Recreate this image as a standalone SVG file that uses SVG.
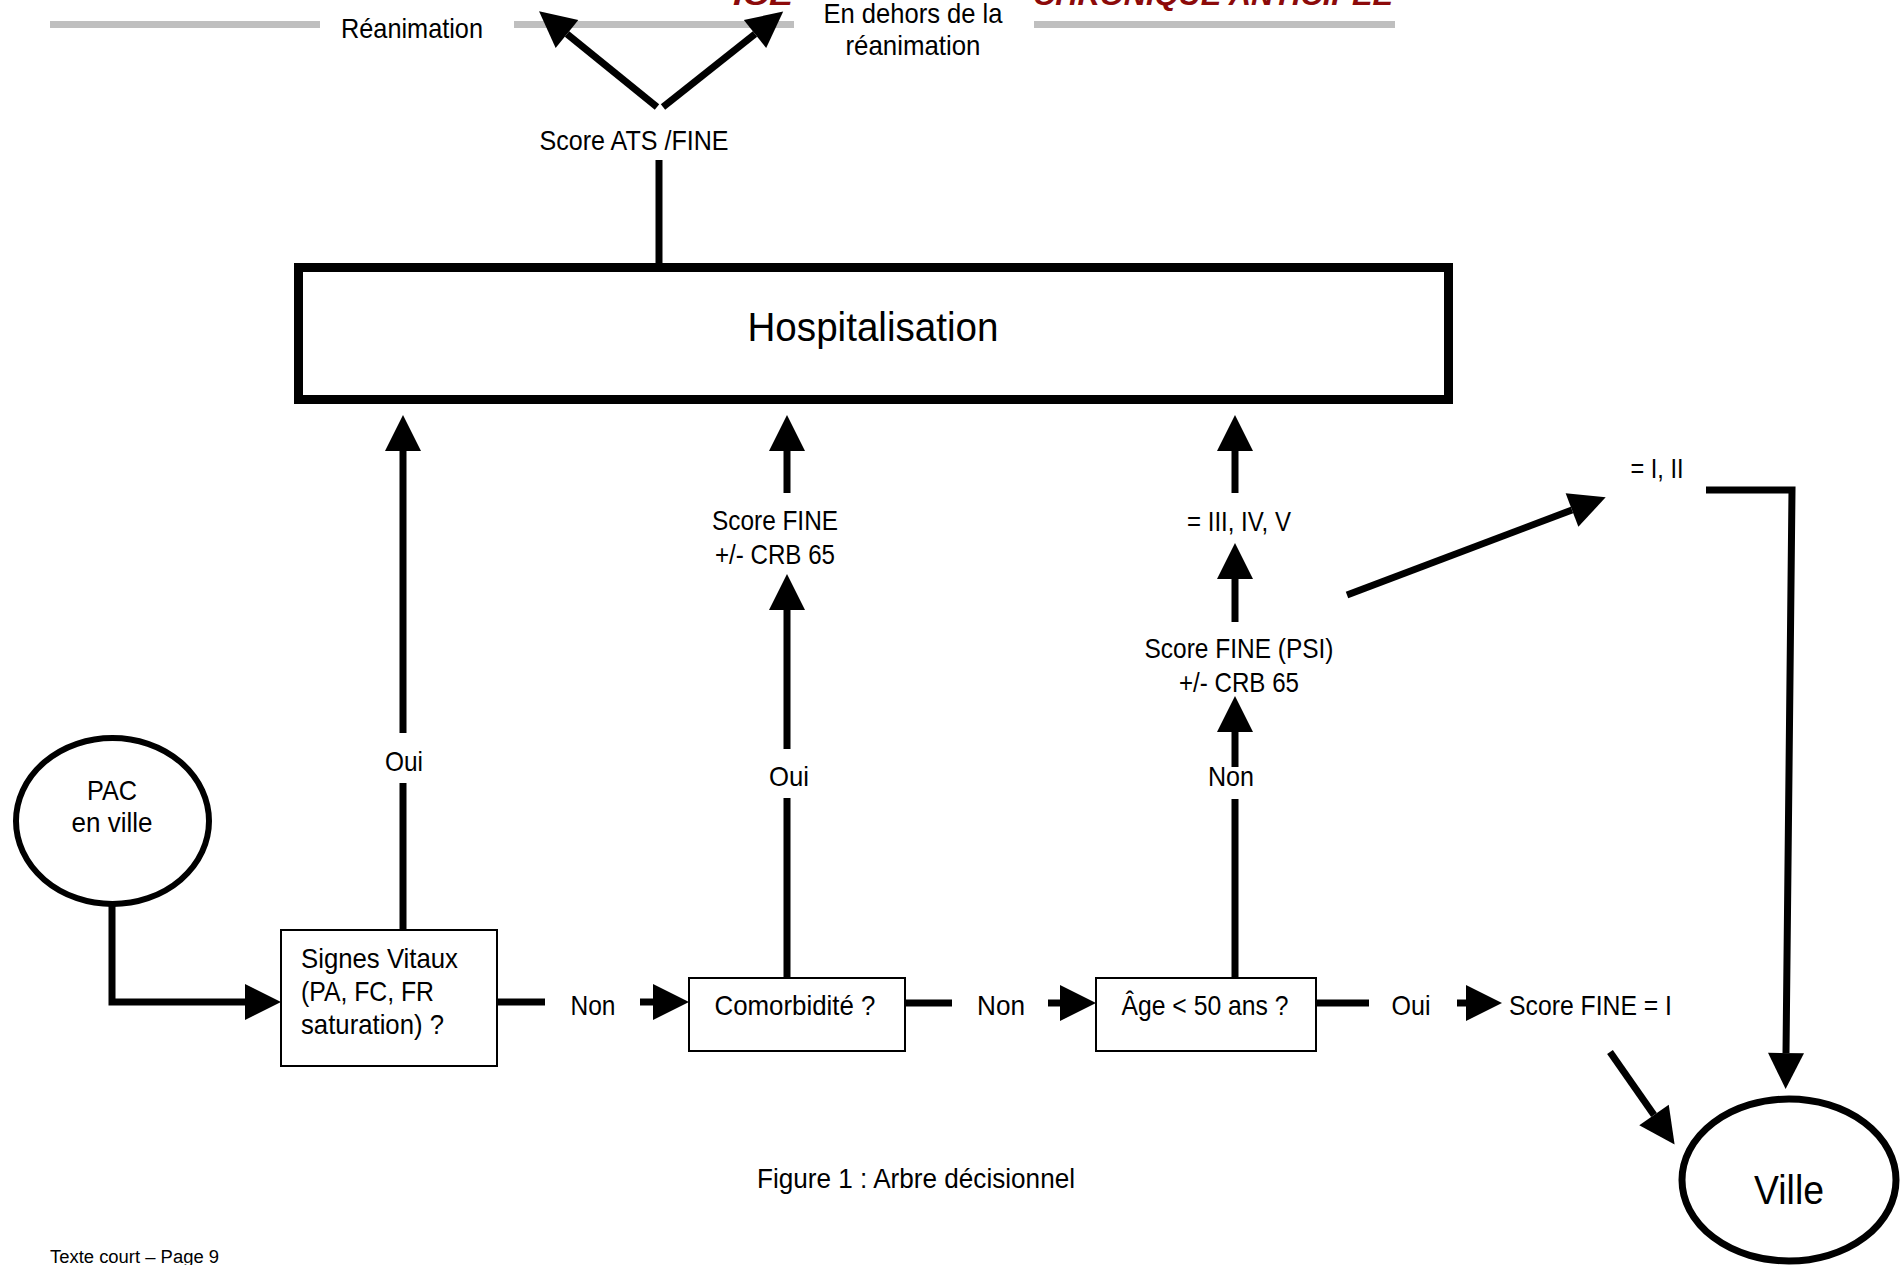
<svg xmlns="http://www.w3.org/2000/svg" width="1904" height="1265" viewBox="0 0 1904 1265">
<style>
.t{font-family:"Liberation Sans Narrow","Liberation Sans",Arial,sans-serif;font-size:28px;fill:#000}
.m{text-anchor:middle}
.hdr{font-family:"Liberation Sans",Arial,sans-serif;font-size:30px;font-weight:bold;font-style:italic;fill:#8C0A0A}
.ln{fill:none;stroke:#000;stroke-width:7;stroke-linecap:butt;stroke-linejoin:miter}
.box{fill:#fff;stroke:#000;stroke-width:2}
.gray{stroke:#BFBFBF;stroke-width:7}
</style>
<defs>
<marker id="ah" markerUnits="userSpaceOnUse" markerWidth="38" markerHeight="37" refX="0" refY="18" orient="auto" overflow="visible">
<path d="M0,0 L36,18 L0,36 z" fill="#000"/>
</marker>
</defs>
<rect width="1904" height="1265" fill="#fff"/>

<g id="header">
<text class="hdr" x="733" y="5" textLength="60" lengthAdjust="spacingAndGlyphs">ICE</text>
<text class="hdr" x="1033" y="5" textLength="360" lengthAdjust="spacingAndGlyphs">CHRONIQUE ANTICIPEE</text>
<line class="gray" x1="50" y1="24.5" x2="320" y2="24.5"/>
<line class="gray" x1="514" y1="24.5" x2="794" y2="24.5"/>
<line class="gray" x1="1034" y1="24.5" x2="1395" y2="24.5"/>
</g>

<g id="connectors">
<line class="ln" x1="659" y1="160" x2="659" y2="263"/>
<line class="ln" x1="657" y1="107" x2="567" y2="34" stroke-width="8" marker-end="url(#ah)"/>
<line class="ln" x1="663" y1="107" x2="755" y2="34" stroke-width="8" marker-end="url(#ah)"/>
<line class="ln" x1="403" y1="733" x2="403" y2="451" marker-end="url(#ah)"/>
<line class="ln" x1="403" y1="783" x2="403" y2="930"/>
<line class="ln" x1="787" y1="493" x2="787" y2="451" marker-end="url(#ah)"/>
<line class="ln" x1="787" y1="749" x2="787" y2="610" marker-end="url(#ah)"/>
<line class="ln" x1="787" y1="798" x2="787" y2="978"/>
<line class="ln" x1="1235" y1="493" x2="1235" y2="451" marker-end="url(#ah)"/>
<line class="ln" x1="1235" y1="622" x2="1235" y2="579" marker-end="url(#ah)"/>
<line class="ln" x1="1235" y1="767" x2="1235" y2="732" marker-end="url(#ah)"/>
<line class="ln" x1="1235" y1="799" x2="1235" y2="978"/>
<path class="ln" d="M112,905 L112,1002 L245,1002" marker-end="url(#ah)"/>
<line class="ln" x1="497" y1="1002" x2="545" y2="1002"/>
<line class="ln" x1="640" y1="1002" x2="653" y2="1002" marker-end="url(#ah)"/>
<line class="ln" x1="905" y1="1003" x2="952" y2="1003"/>
<line class="ln" x1="1048" y1="1003" x2="1060" y2="1003" marker-end="url(#ah)"/>
<line class="ln" x1="1316" y1="1003" x2="1369" y2="1003"/>
<line class="ln" x1="1457" y1="1003" x2="1466" y2="1003" marker-end="url(#ah)"/>
<line class="ln" x1="1610" y1="1052" x2="1654" y2="1115" stroke-width="8" marker-end="url(#ah)"/>
<line class="ln" x1="1347" y1="595" x2="1572" y2="510" stroke-width="8" marker-end="url(#ah)"/>
<path class="ln" d="M1706,490 L1792,490 L1786,1053" marker-end="url(#ah)"/>
</g>

<g id="lbl-reanimation"><text class="t m" x="412" y="38" textLength="142" lengthAdjust="spacingAndGlyphs">Réanimation</text></g>
<g id="lbl-hors-reanimation">
<text class="t m" x="913" y="23" textLength="179" lengthAdjust="spacingAndGlyphs">En dehors de la</text>
<text class="t m" x="913" y="55" textLength="135" lengthAdjust="spacingAndGlyphs">réanimation</text>
</g>
<g id="lbl-score-ats"><text class="t m" x="634" y="150" textLength="189" lengthAdjust="spacingAndGlyphs">Score ATS /FINE</text></g>

<g id="hospitalisation">
<rect x="298.5" y="267.5" width="1150" height="132" fill="#fff" stroke="#000" stroke-width="9"/>
<text class="t m" x="873" y="341" style="font-size:40px" textLength="251" lengthAdjust="spacingAndGlyphs">Hospitalisation</text>
</g>

<g id="lbl-oui-1"><text class="t m" x="404" y="771" textLength="38" lengthAdjust="spacingAndGlyphs">Oui</text></g>
<g id="lbl-score-fine-crb">
<text class="t m" x="775" y="530" textLength="126" lengthAdjust="spacingAndGlyphs">Score FINE</text>
<text class="t m" x="775" y="564" textLength="120" lengthAdjust="spacingAndGlyphs">+/- CRB 65</text>
</g>
<g id="lbl-oui-2"><text class="t m" x="789" y="786" textLength="40" lengthAdjust="spacingAndGlyphs">Oui</text></g>
<g id="lbl-iii-iv-v"><text class="t m" x="1239" y="531" textLength="104" lengthAdjust="spacingAndGlyphs">= III, IV, V</text></g>
<g id="lbl-score-fine-psi">
<text class="t m" x="1239" y="658" textLength="189" lengthAdjust="spacingAndGlyphs">Score FINE (PSI)</text>
<text class="t m" x="1239" y="692" textLength="120" lengthAdjust="spacingAndGlyphs">+/- CRB 65</text>
</g>
<g id="lbl-non-3"><text class="t m" x="1231" y="786" textLength="46" lengthAdjust="spacingAndGlyphs">Non</text></g>
<g id="lbl-i-ii"><text class="t m" x="1657" y="478" textLength="53" lengthAdjust="spacingAndGlyphs">= I, II</text></g>

<g id="pac">
<ellipse cx="112.5" cy="821" rx="96.5" ry="83" fill="#fff" stroke="#000" stroke-width="6"/>
<text class="t m" x="112" y="800" textLength="50" lengthAdjust="spacingAndGlyphs">PAC</text>
<text class="t m" x="112" y="832" textLength="81" lengthAdjust="spacingAndGlyphs">en ville</text>
</g>

<g id="signes-vitaux">
<rect class="box" x="281" y="930" width="216" height="136"/>
<text class="t" x="301" y="968" textLength="157" lengthAdjust="spacingAndGlyphs">Signes Vitaux</text>
<text class="t" x="301" y="1001" textLength="133" lengthAdjust="spacingAndGlyphs">(PA, FC, FR</text>
<text class="t" x="301" y="1034" textLength="143" lengthAdjust="spacingAndGlyphs">saturation) ?</text>
</g>
<g id="lbl-non-1"><text class="t m" x="593" y="1015" textLength="45" lengthAdjust="spacingAndGlyphs">Non</text></g>

<g id="comorbidite">
<rect class="box" x="689" y="978" width="216" height="73"/>
<text class="t m" x="795" y="1015" textLength="161" lengthAdjust="spacingAndGlyphs">Comorbidité ?</text>
</g>
<g id="lbl-non-2"><text class="t m" x="1001" y="1015" textLength="48" lengthAdjust="spacingAndGlyphs">Non</text></g>

<g id="age">
<rect class="box" x="1096" y="978" width="220" height="73"/>
<text class="t m" x="1205" y="1015" textLength="167" lengthAdjust="spacingAndGlyphs">Âge &lt; 50 ans ?</text>
</g>
<g id="lbl-oui-3"><text class="t m" x="1411" y="1015" textLength="39" lengthAdjust="spacingAndGlyphs">Oui</text></g>
<g id="score-fine-i"><text class="t" x="1509" y="1015" textLength="163" lengthAdjust="spacingAndGlyphs">Score FINE = I</text></g>

<g id="ville">
<ellipse cx="1789" cy="1180" rx="107" ry="81" fill="#fff" stroke="#000" stroke-width="7"/>
<text class="t m" x="1789" y="1204" style="font-size:40px" textLength="70" lengthAdjust="spacingAndGlyphs">Ville</text>
</g>

<g id="caption">
<text class="t m" x="916" y="1188" textLength="318" lengthAdjust="spacingAndGlyphs">Figure 1 : Arbre décisionnel</text>
<text class="t" x="50" y="1263" style="font-size:18px" textLength="169" lengthAdjust="spacingAndGlyphs">Texte court – Page 9</text>
</g>
</svg>
